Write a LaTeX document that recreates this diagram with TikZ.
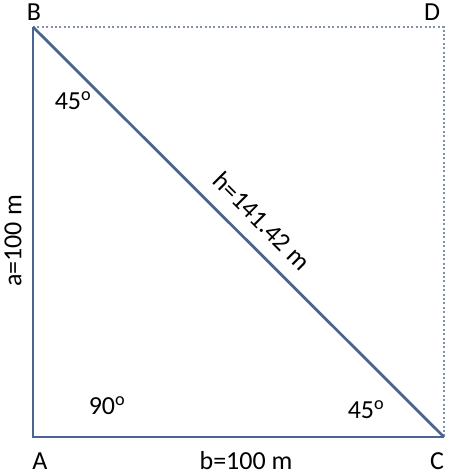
\documentclass[tikz,border=0pt]{standalone}
\usepackage{fontspec}
\setmainfont{Carlito}
\definecolor{edge}{HTML}{4A6590}
\definecolor{dots}{HTML}{8090A8}
\begin{document}
\begin{tikzpicture}[x=1pt,y=-1pt,
  lbl/.style={font=\fontsize{26}{28}\selectfont, inner sep=0pt},
  side/.style={draw=edge, line width=2.8pt},
  dotline/.style={draw=dots, line width=2.2pt, dash pattern=on 2pt off 2.4pt}]
\useasboundingbox (0,0) rectangle (454,476);
\coordinate (A) at (33,437);
\coordinate (B) at (33,27);
\coordinate (C) at (444,437);
\coordinate (D) at (444,27);
\draw[dotline] (B) -- (D) -- (C);
\draw[side] (B) -- (A) -- (C);
\draw[side] (B) -- (C);
\node[lbl] (lB) at (34,12) {B};
\node[lbl] (lD) at (432,12) {D};
\node[lbl] (lA) at (40,461) {A};
\node[lbl] (lC) at (437,461) {C};
\node[lbl, rotate=90] (la) at (13,241) {a=100 m};
\node[lbl] (lb) at (246,461) {b=100 m};
\node[lbl, rotate=-45] (lh) at (262,221) {h=141.42 m};
\node[lbl] (g1) at (73,101) {45\textsuperscript{o}};
\node[lbl] (g2) at (107,406) {90\textsuperscript{o}};
\node[lbl] (g3) at (366,410) {45\textsuperscript{o}};
\end{tikzpicture}
\end{document}
